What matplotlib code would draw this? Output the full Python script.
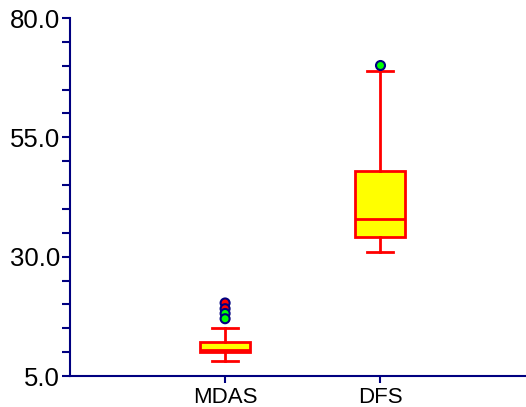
import numpy as np
import matplotlib
matplotlib.use("Agg")
import matplotlib.pyplot as plt
from matplotlib.ticker import MultipleLocator, FormatStrFormatter

plt.rcParams['font.family'] = ['Liberation Sans', 'DejaVu Sans']

categories = ["MDAS", "DFS"]
whislo = [8.1, 31.0]
q1 = [10.0, 34.2]
med = [10.4, 37.8]
q3 = [12.2, 48.0]
whishi = [15.1, 69.0]

mdas_out = [20.3, 19.1, 18.1, 17.0]
mdas_out_colors = ["#ff0000", "#ff0000", "#00ff00", "#00ff00"]
dfs_out = [70.2]
dfs_out_colors = ["#00ff00"]

yticks = [5.0, 30.0, 55.0, 80.0]

navy = "#000080"

stats = []
for i, c in enumerate(categories):
    stats.append(dict(label=c, whislo=whislo[i], q1=q1[i], med=med[i],
                      q3=q3[i], whishi=whishi[i], fliers=[]))

fig = plt.figure(figsize=(5.26, 4.07), dpi=100)
ax = fig.add_axes([70/526, 31/407, 456/526, 358/407])

pos = [1, 2]
ax.bxp(stats, positions=pos, widths=0.32, patch_artist=True, showfliers=False,
       boxprops=dict(facecolor="#ffff00", edgecolor="#ff0000", linewidth=2),
       medianprops=dict(color="#ff0000", linewidth=2),
       whiskerprops=dict(color="#ff0000", linewidth=2),
       capprops=dict(color="#ff0000", linewidth=2),
       capwidths=0.17)

ax.scatter([pos[0]] * len(mdas_out), mdas_out, s=42, c=mdas_out_colors,
           edgecolors=navy, linewidths=1.5, zorder=5)
ax.scatter([pos[1]] * len(dfs_out), dfs_out, s=42, c=dfs_out_colors,
           edgecolors=navy, linewidths=1.5, zorder=5)

ax.set_xlim(0, 2.94)
ax.set_ylim(5, 80)
ax.set_xticks(pos)
ax.set_xticklabels(categories)
ax.set_yticks(yticks)
ax.yaxis.set_minor_locator(MultipleLocator(5))
ax.yaxis.set_major_formatter(FormatStrFormatter('%.1f'))

for s in ["top", "right"]:
    ax.spines[s].set_visible(False)
for s in ["left", "bottom"]:
    ax.spines[s].set_color(navy)
    ax.spines[s].set_linewidth(1.5)

ax.tick_params(axis='y', which='both', direction='out', length=6, width=1.5,
               color=navy, labelsize=18.5, pad=1)
ax.tick_params(axis='x', direction='out', length=5, width=1.5, color=navy,
               labelsize=16, pad=3)

plt.savefig("out.png", dpi=100)
